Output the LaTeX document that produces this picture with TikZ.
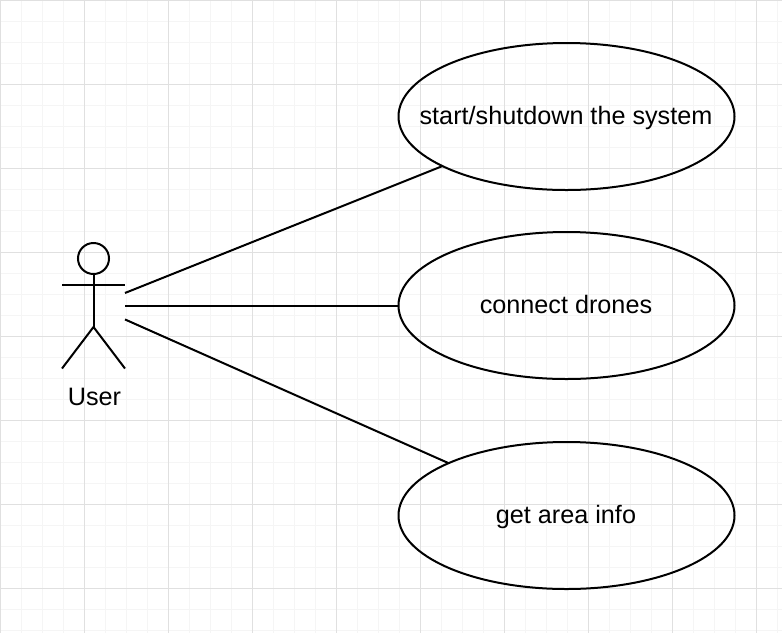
\documentclass[tikz,border=0pt]{standalone}
\usepackage{fontspec}
\setmainfont{Liberation Sans}
\usetikzlibrary{shapes.geometric}
\definecolor{gridminor}{HTML}{F5F5F5}
\definecolor{gridmajor}{HTML}{E0E0E0}
\begin{document}
\begin{tikzpicture}[x=1pt,y=-1pt,line width=2pt,font=\fontsize{25.2}{30}\selectfont,usecase/.style={shape=ellipse,draw=black,minimum width=336pt,minimum height=147pt,inner sep=0pt,outer sep=0pt},actorbox/.style={shape=rectangle,minimum width=63pt,minimum height=126pt,inner sep=0pt,outer sep=0pt},caseL/.style={anchor=base,inner sep=0pt},gridthin/.style={gridminor,line width=1pt},gridthick/.style={gridmajor,line width=1pt}]
\useasboundingbox (0,0) rectangle (782,633);

\foreach \gx in {0,21,...,777} {\draw[gridthin] (\gx+0.5,0) -- (\gx+0.5,633);}
\foreach \gy in {0,21,...,630} {\draw[gridthin] (0,\gy+0.5) -- (782,\gy+0.5);}
\foreach \gx in {0,84,...,777} {\draw[gridthick] (\gx+0.5,0) -- (\gx+0.5,633);}
\foreach \gy in {0,84,...,630} {\draw[gridthick] (0,\gy+0.5) -- (782,\gy+0.5);}

\node[actorbox] (user) at (93.5,305.5) {};
\node[shape=circle,draw=black,minimum size=31pt,inner sep=0pt] (head) at (93.5,258.5) {};
\coordinate (neck) at (93.5,284.5);
\coordinate (hip) at (93.5,327);
\draw (head.south) -- (hip);
\draw (user.west |- neck) -- (user.east |- neck);
\draw (user.south west) -- (hip) -- (user.south east);
\node[caseL] (userlabel) at (94.5,405.5) {User};

\node[usecase] (start) at (566.5,116.5) {};
\node[caseL] (starttext) at (566,124) {start/shutdown the system};
\draw (user) -- (start);
\node[usecase] (connect) at (566.5,305.5) {};
\node[caseL] (connecttext) at (566,313) {connect drones};
\draw (user) -- (connect);
\node[usecase] (area) at (566.5,515.5) {};
\node[caseL] (areatext) at (566,523) {get area info};
\draw (user) -- (area);
\end{tikzpicture}
\end{document}
